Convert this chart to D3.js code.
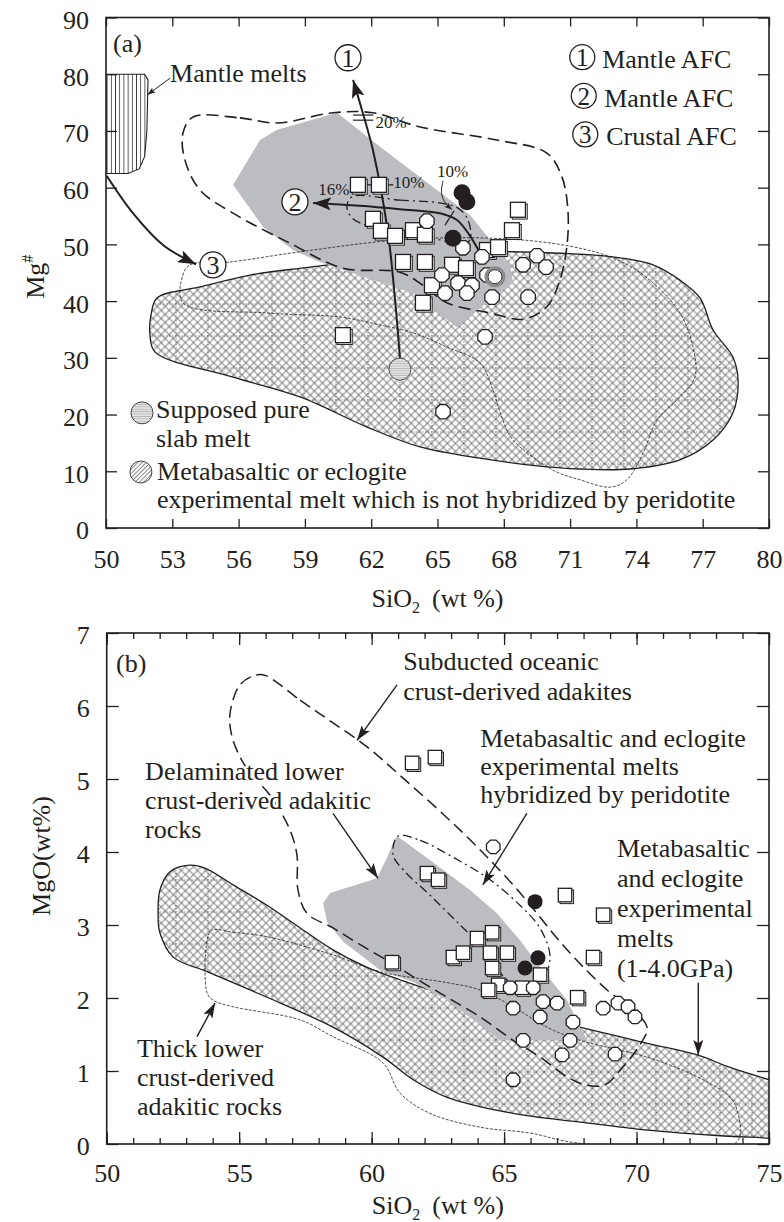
<!DOCTYPE html>
<html>
<head>
<meta charset="utf-8">
<script src="https://cdn.jsdelivr.net/npm/d3@7"></script>
<style>
  body { margin: 0; background: #fff; }
  svg text { font-family: "Liberation Serif", "Times New Roman", serif; fill: #231f20; }
</style>
</head>
<body>
<script>
// ================= Panel (a): SiO2 vs Mg# =================
const aTicksX = [50, 53, 56, 59, 62, 65, 68, 71, 74, 77, 80];
const aTicksY = [0, 10, 20, 30, 40, 50, 60, 70, 80, 90];

const aSquares = [
  [61.4, 60.5], [62.35, 60.5], [62.08, 54.5], [62.44, 52.4], [63.08, 51.5],
  [63.89, 52.5], [64.43, 51.7], [63.44, 46.9], [64.43, 46.9], [65.66, 46.4],
  [66.29, 45.8], [64.75, 42.8], [64.34, 39.7], [67.24, 49.0], [67.74, 49.5],
  [68.37, 52.5], [68.64, 56.1], [60.72, 34.0]
];
const aOpenCircles = [
  [64.52, 54.1], [66.15, 49.4], [67.01, 47.8], [65.2, 44.6], [65.93, 43.2],
  [66.56, 42.8], [67.24, 44.6], [65.34, 41.4], [66.33, 41.4], [67.47, 40.7],
  [68.87, 46.4], [69.5, 48.0], [69.91, 46.0], [69.1, 40.7], [67.15, 33.7],
  [65.25, 20.5]
];
const aFilledCircles = [[66.11, 59.1], [66.33, 57.5], [65.7, 51.1]];
const aRingCircles = [[67.6, 44.3]];
const aSlabMelt = [[63.3, 28.0]];

const aMantleMelts = [[50, 80], [51.75, 80], [51.9, 79], [51.85, 70], [51.75, 65.5],
  [51.5, 63.3], [51.0, 62.5], [50, 62.5]];
const aExpMeltField = [
  [52.31, 40.55], [54.25, 42.5], [56.52, 44.6], [59.23, 46.0], [62.4, 47.6],
  [65.57, 48.7], [68.42, 48.7], [72.94, 47.8], [74.75, 46.4], [75.97, 43.7],
  [76.88, 40.55], [77.47, 34.9], [78.37, 30.1], [78.6, 26.1], [78.37, 20.3],
  [77.47, 15.5], [75.97, 12.0], [73.71, 10.4], [71.45, 10.4], [69.19, 11.1],
  [66.92, 12.3], [64.21, 14.3], [61.81, 17.8], [58.78, 23.1], [55.75, 26.6],
  [52.22, 31.0], [51.99, 34.0], [52.04, 37.6]
];
const aThinField = [
  [53.8, 46.4], [55.61, 46.9], [58.78, 48.7], [63.3, 50.8], [67.38, 51.1],
  [70.68, 49.9], [72.94, 47.6], [74.48, 44.1], [75.97, 37.9], [76.56, 31.9],
  [76.65, 26.6], [75.97, 23.1], [74.93, 19.0], [74.3, 13.2], [73.57, 8.5],
  [72.81, 7.2], [71.45, 8.5], [70.23, 10.2], [68.42, 15.5], [67.96, 19.0],
  [67.51, 24.3], [66.92, 29.1], [65.43, 31.9], [63.89, 34.4], [62.4, 35.8],
  [60.59, 37.2], [57.29, 37.9], [53.48, 39.7], [53.48, 44.6]
];
const aAdakiteField = [
  [53.94, 72.46], [56.06, 72.3], [57.74, 71.4], [60.27, 73.2], [62.08, 73.2],
  [64.21, 70.7], [67.69, 68.4], [69.95, 66.1], [70.63, 61.9], [70.9, 56.1],
  [70.86, 49.9], [70.54, 43.7], [69.95, 39.0], [68.87, 36.8], [67.38, 37.9],
  [65.43, 39.7], [64.34, 42.8], [63.3, 45.1], [60.72, 45.8], [58.33, 50.2],
  [55.75, 55.5], [54.25, 59.6], [53.57, 64.9], [53.48, 69.6]
];
const aHybridField = [
  [55.75, 60.5], [56.97, 68.4], [57.74, 70.2], [60.45, 73.2], [62.4, 67.2],
  [64.66, 60.5], [66.47, 55.2], [67.38, 50.8], [68.28, 46.4], [68.42, 43.2],
  [67.38, 40.2], [65.88, 35.4], [63.9, 41.4], [59.68, 46.9], [58.46, 49.0],
  [57.1, 53.1]
];
const aMixLoop = [
  [61.13, 58.4], [63.3, 57.8], [65.11, 57.3], [65.93, 56.4], [66.38, 54.3],
  [66.47, 50.8], [66.11, 49.9], [65.11, 50.8], [63.3, 52.0], [61.95, 53.1],
  [61.13, 54.7], [60.9, 56.6]
];
const aPath1 = [[63.3, 30.0], [63.08, 40.2], [62.76, 52.0], [62.08, 66.6], [61.58, 73.7], [61.18, 79.0]];
const aPath2 = [[66.92, 48.5], [66.47, 51.5], [65.88, 54.3], [65.11, 55.5], [63.3, 56.2], [61.49, 56.8], [59.37, 57.3]];
const aPath3 = [[50.03, 62.1], [51.22, 55.5], [52.58, 49.9], [54.07, 46.5]];
const aPathLabels = [[60.95, 82.9, "1"], [58.55, 57.5, "2"], [54.84, 46.4, "3"]];
const aLegendAFC = [["1", "Mantle AFC"], ["2", "Mantle AFC"], ["3", "Crustal AFC"]];

// ================= Panel (b): SiO2 vs MgO =================
const bTicksX = [50, 55, 60, 65, 70, 75];
const bMinorX = d3.range(50, 76, 1);
const bTicksY = [0, 1, 2, 3, 4, 5, 6, 7];

const bSquares = [
  [61.53, 5.22], [62.39, 5.3], [62.09, 3.71], [62.51, 3.62], [67.3, 3.41],
  [68.74, 3.14], [68.36, 2.56], [67.76, 2.01], [60.77, 2.49], [63.07, 2.56],
  [63.45, 2.62], [63.98, 2.82], [64.55, 2.9], [64.47, 2.62], [65.11, 2.62],
  [64.55, 2.41], [64.78, 2.18], [64.4, 2.11], [65.68, 2.14], [66.36, 2.32]
];
const bOpenCircles = [
  [64.59, 4.07], [65.23, 2.14], [66.1, 2.14], [66.47, 1.95], [67.0, 1.93],
  [65.34, 1.86], [66.36, 1.74], [67.6, 1.67], [65.72, 1.42], [67.49, 1.42],
  [67.19, 1.22], [68.74, 1.86], [69.3, 1.93], [69.68, 1.88], [69.94, 1.74],
  [69.19, 1.23], [65.34, 0.88]
];
const bFilledCircles = [[66.17, 3.32], [66.28, 2.55], [65.79, 2.41]];

const bExpMeltField = [
  [51.94, 3.14], [52.01, 3.48], [52.39, 3.73], [53.14, 3.82], [53.71, 3.78],
  [54.77, 3.55], [56.05, 3.27], [57.3, 2.96], [58.54, 2.66], [59.83, 2.42],
  [61.07, 2.25], [62.85, 2.04], [65.34, 1.84], [67.87, 1.6], [70.4, 1.38],
  [72.29, 1.22], [73.53, 1.05], [75.0, 0.88], [76.5, 0.7],
  [76.5, 0.05], [75.0, 0.08], [72.89, 0.12], [70.4, 0.19], [67.87, 0.3],
  [65.34, 0.42], [62.85, 0.64], [61.57, 0.88], [60.43, 1.19], [58.54, 1.6],
  [56.05, 2.01], [53.79, 2.36], [52.51, 2.56], [52.01, 2.89]
];
const bThickCrustField = [
  [53.97, 2.93], [54.77, 2.9], [56.05, 2.84], [58.54, 2.59], [60.32, 2.36],
  [62.85, 2.21], [64.1, 2.11], [65.34, 1.88], [66.62, 1.6], [67.87, 1.42],
  [70.4, 1.19], [72.29, 0.92], [73.53, 0.64], [73.79, 0.47], [73.79, 0.03],
  [67.87, 0.01], [65.98, 0.15], [64.1, 0.23], [62.2, 0.42], [61.07, 0.7],
  [60.43, 1.11], [58.54, 1.47], [57.3, 1.7], [54.77, 1.88], [54.02, 1.97],
  [53.79, 2.07], [53.79, 2.79]
];
const bAdakiteField = [
  [55.98, 6.42], [57.3, 6.08], [58.54, 5.77], [59.83, 5.44], [61.07, 5.05],
  [63.34, 4.3], [65.34, 3.55], [67.38, 2.66], [68.89, 2.11], [69.87, 1.84],
  [70.4, 1.59], [70.13, 1.36], [69.38, 1.01], [68.81, 0.81], [68.06, 0.81],
  [67.38, 0.92], [66.36, 1.19], [65.34, 1.42], [64.1, 1.74], [62.85, 2.01],
  [61.57, 2.29], [60.7, 2.49], [59.57, 2.73], [58.54, 2.96], [57.56, 3.16],
  [57.22, 3.48], [57.18, 3.96], [56.92, 4.3], [56.16, 4.78], [55.33, 5.12],
  [54.77, 5.53], [54.65, 5.88], [55.03, 6.29], [55.6, 6.42]
];
const bDelaminatedField = [
  [60.96, 4.22], [62.2, 3.89], [63.71, 3.48], [64.73, 3.16], [65.6, 2.79],
  [66.36, 2.42], [67.38, 1.97], [67.87, 1.6], [68.13, 1.42], [64.85, 1.42],
  [64.1, 1.63], [62.85, 1.97], [61.57, 2.22], [60.32, 2.38], [59.83, 2.52],
  [58.93, 2.77], [58.32, 3.04], [58.17, 3.3], [58.43, 3.44], [60.2, 3.64],
  [60.58, 3.92], [60.81, 4.12]
];
const bHybridLoop = [
  [61.0, 4.22], [61.83, 4.16], [63.07, 3.93], [64.47, 3.62], [65.6, 3.27],
  [66.35, 2.96], [66.73, 2.59], [66.54, 2.32], [65.79, 2.18], [65.04, 2.27],
  [64.47, 2.59], [63.34, 3.0], [62.2, 3.41], [61.26, 3.73], [60.81, 3.96]
];

// ================= Drawing =================
const ink = "#231f20";
const greyFill = "#bcbdc0";
const svg = d3.select("body").append("svg").attr("width", 784).attr("height", 1222);
const defs = svg.append("defs");

const xA = d3.scaleLinear().domain([50, 80]).range([106, 769]);
const yA = d3.scaleLinear().domain([0, 90]).range([528, 17.5]);
const xB = d3.scaleLinear().domain([50, 75]).range([106.7, 769]);
const yB = d3.scaleLinear().domain([0, 7]).range([1144, 633]);
const intFmt = d3.format("d");

// --- fill patterns ---
function pattern(id, w, h, transform) {
  const p = defs.append("pattern").attr("id", id).attr("patternUnits", "userSpaceOnUse")
    .attr("width", w).attr("height", h);
  if (transform) p.attr("patternTransform", transform);
  return p;
}
const cross = pattern("xhatch", 5.7, 5.7, "rotate(45)");
cross.append("rect").attr("width", 5.7).attr("height", 5.7).attr("fill", "#fff");
cross.append("path").attr("d", "M0,2.85H5.7M2.85,0V5.7").attr("stroke", "#555").attr("stroke-width", 0.75);

const grid = pattern("grid", 32, 32);
grid.append("path").attr("d", "M16,0V32M0,16H32").attr("stroke", "#444")
  .attr("stroke-width", 0.6).attr("stroke-dasharray", "1.5,1.5");

const vlines = pattern("vlines", 4.2, 10);
vlines.append("rect").attr("width", 4.2).attr("height", 10).attr("fill", "#fff");
vlines.append("path").attr("d", "M2.1,0V10").attr("stroke", ink).attr("stroke-width", 0.8);

const hlines = pattern("hlines", 10, 2.4);
hlines.append("rect").attr("width", 10).attr("height", 2.4).attr("fill", "#e4e4e4");
hlines.append("path").attr("d", "M0,1.2H10").attr("stroke", "#9a9a9a").attr("stroke-width", 0.6);

const dlines = pattern("dlines", 3, 10, "rotate(45)");
dlines.append("rect").attr("width", 3).attr("height", 10).attr("fill", "#fff");
dlines.append("path").attr("d", "M1.5,0V10").attr("stroke", "#555").attr("stroke-width", 0.7);

// --- arrow heads ---
function arrowMarker(id, len, wid) {
  defs.append("marker").attr("id", id).attr("viewBox", `0 0 ${len} ${wid}`)
    .attr("refX", len).attr("refY", wid / 2).attr("markerWidth", len).attr("markerHeight", wid)
    .attr("markerUnits", "userSpaceOnUse").attr("orient", "auto")
    .append("path").attr("d", `M0,0L${len},${wid / 2}L0,${wid}L${len * 0.22},${wid / 2}Z`).attr("fill", ink);
}
arrowMarker("headBig", 18, 13);
arrowMarker("headMid", 15, 10);
arrowMarker("headSmall", 8, 6);

// --- clip paths ---
defs.append("clipPath").attr("id", "clipA").append("rect")
  .attr("x", xA(50)).attr("y", yA(90)).attr("width", xA(80) - xA(50)).attr("height", yA(0) - yA(90));
defs.append("clipPath").attr("id", "clipB").append("rect")
  .attr("x", xB(50)).attr("y", yB(7)).attr("width", xB(75) - xB(50)).attr("height", yB(0) - yB(7));

// --- helpers ---
const smoothClosed = (x, y) => d3.line().x(d => x(d[0])).y(d => y(d[1])).curve(d3.curveCatmullRomClosed.alpha(0.5));
const linearClosed = (x, y) => d3.line().x(d => x(d[0])).y(d => y(d[1])).curve(d3.curveLinearClosed);
const smoothOpen = (x, y) => d3.line().x(d => x(d[0])).y(d => y(d[1])).curve(d3.curveCatmullRom.alpha(0.5));
const straight = (x, y) => d3.line().x(d => x(d[0])).y(d => y(d[1]));

function hatchedField(g, data, x, y) {
  const path = smoothClosed(x, y)(data);
  g.append("path").attr("d", path).attr("fill", "url(#xhatch)");
  g.append("path").attr("d", path).attr("fill", "url(#grid)");
  g.append("path").attr("d", path).attr("fill", "none").attr("stroke", ink).attr("stroke-width", 1.3);
}

function octagon(r) {
  return d3.line()(d3.range(8).map(i => {
    const a = (i + 0.5) * Math.PI / 4;
    return [r * Math.cos(a), r * Math.sin(a)];
  })) + "Z";
}

function drawSquares(g, data, x, y, s) {
  const m = g.selectAll(null).data(data).join("g")
    .attr("transform", d => `translate(${x(d[0])},${y(d[1])})`);
  m.append("rect").attr("x", -s / 2 + 1.8).attr("y", -s / 2 + 1.8).attr("width", s).attr("height", s)
    .attr("fill", "#fff").attr("stroke", ink).attr("stroke-width", 1);
  m.append("rect").attr("x", -s / 2).attr("y", -s / 2).attr("width", s).attr("height", s)
    .attr("fill", "#fff").attr("stroke", ink).attr("stroke-width", 1.3);
}
function drawOpenCircles(g, data, x, y, r) {
  g.selectAll(null).data(data).join("path")
    .attr("transform", d => `translate(${x(d[0])},${y(d[1])})`)
    .attr("d", octagon(r)).attr("fill", "#fff").attr("stroke", ink).attr("stroke-width", 1.3);
}
function drawFilledCircles(g, data, x, y, r) {
  g.selectAll(null).data(data).join("circle")
    .attr("cx", d => x(d[0])).attr("cy", d => y(d[1])).attr("r", r).attr("fill", ink);
}
function circledNumber(g, cx, cy, r, n, fs) {
  g.append("circle").attr("cx", cx).attr("cy", cy).attr("r", r)
    .attr("fill", "#fff").attr("stroke", ink).attr("stroke-width", 1.3);
  g.append("text").attr("x", cx).attr("y", cy).attr("dy", "0.35em").attr("text-anchor", "middle")
    .attr("font-size", fs).text(n);
}
function label(g, x, y, lines, opts = {}) {
  const fs = opts.size || 26, lh = opts.lineHeight || 29;
  lines.forEach((t, i) => {
    const tx = g.append("text").attr("x", x).attr("y", y + i * lh).attr("font-size", fs)
      .attr("text-anchor", opts.anchor || "start").text(t);
    if (opts.halo) tx.attr("stroke", "#fff").attr("stroke-width", 5).attr("paint-order", "stroke")
      .attr("stroke-linejoin", "round");
  });
}
function arrow(g, pts, x, y, head, width, curved) {
  const gen = curved ? smoothOpen(x, y) : straight(x, y);
  g.append("path").attr("d", gen(pts)).attr("fill", "none").attr("stroke", ink)
    .attr("stroke-width", width).attr("marker-end", `url(#${head})`);
}
function styleAxis(g) {
  g.attr("font-family", null).attr("font-size", null);
  g.select(".domain").remove();
  g.selectAll(".tick line").attr("stroke", ink).attr("stroke-width", 1.3);
  g.selectAll(".tick text").attr("font-size", 26).attr("fill", ink);
}

// ================= Panel (a) =================
const pa = svg.append("g");
const fa = pa.append("g").attr("clip-path", "url(#clipA)");

hatchedField(fa, aExpMeltField, xA, yA);
fa.append("path").attr("d", linearClosed(xA, yA)(aHybridField)).attr("fill", greyFill);
fa.append("path").attr("d", smoothClosed(xA, yA)(aThinField)).attr("fill", "none")
  .attr("stroke", ink).attr("stroke-width", 0.8).attr("stroke-dasharray", "3,1.5");
fa.append("path").attr("d", smoothClosed(xA, yA)(aAdakiteField)).attr("fill", "none")
  .attr("stroke", ink).attr("stroke-width", 1.6).attr("stroke-dasharray", "12,6");
fa.append("path").attr("d", smoothClosed(xA, yA)(aMixLoop)).attr("fill", "none")
  .attr("stroke", ink).attr("stroke-width", 1.3).attr("stroke-dasharray", "9,4,2,4");
fa.append("path").attr("d", linearClosed(xA, yA)(aMantleMelts)).attr("fill", "url(#vlines)")
  .attr("stroke", ink).attr("stroke-width", 1.1);

// AFC paths
arrow(pa, aPath1, xA, yA, "headBig", 2, true);
arrow(pa, aPath2, xA, yA, "headBig", 2, true);
arrow(pa, aPath3, xA, yA, "headBig", 2, true);

// percentage marks along the paths
pa.append("path").attr("d", straight(xA, yA)([[61.18, 72.8], [62.1, 72.8]])).attr("stroke", ink).attr("stroke-width", 1.2);
pa.append("path").attr("d", straight(xA, yA)([[61.18, 71.9], [62.1, 71.9]])).attr("stroke", ink).attr("stroke-width", 1.2);
pa.append("text").attr("x", xA(62.2)).attr("y", yA(70.5)).attr("font-size", 17).text("20%");
pa.append("path").attr("d", straight(xA, yA)([[61.4, 60.5], [63.0, 60.5]])).attr("stroke", ink).attr("stroke-width", 1.2);
pa.append("text").attr("x", xA(63.0)).attr("y", yA(59.9)).attr("font-size", 17).text("10%");
pa.append("text").attr("x", xA(59.6)).attr("y", yA(58.7)).attr("font-size", 17).text("16%");
pa.append("text").attr("x", xA(64.98)).attr("y", yA(61.9)).attr("font-size", 17).text("10%");
arrow(pa, [[65.25, 61.2], [65.18, 59.2], [65.32, 57.5], [65.66, 56.1]], xA, yA, "headSmall", 1, true);
pa.append("path").attr("d", straight(xA, yA)([[65.34, 53.4], [65.75, 55.9]])).attr("stroke", ink).attr("stroke-width", 1.2);

// samples
drawSquares(pa, aSquares, xA, yA, 15);
drawOpenCircles(pa, aOpenCircles, xA, yA, 7.8);
pa.selectAll(null).data(aRingCircles).join("circle")
  .attr("cx", d => xA(d[0])).attr("cy", d => yA(d[1])).attr("r", 9)
  .attr("fill", "#fff").attr("stroke", "#8a8a8a").attr("stroke-width", 3);
pa.selectAll(null).data(aRingCircles).join("circle")
  .attr("cx", d => xA(d[0])).attr("cy", d => yA(d[1])).attr("r", 7)
  .attr("fill", "none").attr("stroke", ink).attr("stroke-width", 1);
drawFilledCircles(pa, aFilledCircles, xA, yA, 8.5);
pa.selectAll(null).data(aSlabMelt).join("circle")
  .attr("cx", d => xA(d[0])).attr("cy", d => yA(d[1])).attr("r", 11)
  .attr("fill", "url(#hlines)").attr("stroke", "#555").attr("stroke-width", 1);

// path numbers
aPathLabels.forEach(d => circledNumber(pa, xA(d[0]), yA(d[1]), 13, d[2], 26));

// legend for the AFC paths
aLegendAFC.forEach((d, i) => {
  const cy = yA(83.0 - i * 6.8);
  circledNumber(pa, xA(71.55) + i * 1.5, cy, 12.5, d[0], 25);
  pa.append("text").attr("x", xA(72.45) + i * 2).attr("y", cy + 11).attr("font-size", 26).text(d[1]);
});

// annotations
pa.append("text").attr("x", xA(50.32)).attr("y", yA(83.9)).attr("font-size", 26).text("(a)");
label(pa, xA(52.9), yA(78.6), ["Mantle melts"]);
arrow(pa, [[52.9, 79.3], [51.88, 76.4]], xA, yA, "headSmall", 1, false);

pa.append("circle").attr("cx", xA(51.63)).attr("cy", yA(20.3)).attr("r", 11)
  .attr("fill", "url(#hlines)").attr("stroke", "#444").attr("stroke-width", 1);
label(pa, xA(52.26), yA(19.4), ["Supposed pure", "slab melt"]);
pa.append("circle").attr("cx", xA(51.58)).attr("cy", yA(9.87)).attr("r", 11)
  .attr("fill", "url(#dlines)").attr("stroke", "#444").attr("stroke-width", 1);
label(pa, xA(52.31), yA(8.46), ["Metabasaltic or eclogite",
  "experimental melt which is not hybridized by peridotite"], { lineHeight: 28 });

// axes (a)
pa.append("g").attr("transform", `translate(0,${yA(0)})`)
  .call(d3.axisBottom(xA).tickValues(aTicksX).tickFormat(intFmt).tickSizeInner(-9).tickSizeOuter(0).tickPadding(22)).call(styleAxis);
pa.append("g").attr("transform", `translate(0,${yA(90)})`)
  .call(d3.axisTop(xA).tickValues(aTicksX).tickSizeInner(-9).tickSizeOuter(0).tickFormat("")).call(styleAxis);
pa.append("g").attr("transform", `translate(${xA(50)},0)`)
  .call(d3.axisLeft(yA).tickValues(aTicksY).tickFormat(intFmt).tickSizeInner(-11).tickSizeOuter(0).tickPadding(17)).call(styleAxis)
  .selectAll(".tick text").attr("dy", "0.42em");
pa.append("g").attr("transform", `translate(${xA(80)},0)`)
  .call(d3.axisRight(yA).tickValues(aTicksY).tickSizeInner(-11).tickSizeOuter(0).tickFormat("")).call(styleAxis);
pa.append("rect").attr("x", xA(50)).attr("y", yA(90)).attr("width", xA(80) - xA(50)).attr("height", yA(0) - yA(90))
  .attr("fill", "none").attr("stroke", ink).attr("stroke-width", 1.6);

const titleA = pa.append("text").attr("x", (xA(50) + xA(80)) / 2).attr("y", 607)
  .attr("text-anchor", "middle").attr("font-size", 26);
titleA.append("tspan").text("SiO");
titleA.append("tspan").attr("font-size", 16).attr("dy", 6).text("2");
titleA.append("tspan").attr("dy", -6).attr("dx", 12).text("(wt %)");

const yTitleA = pa.append("text").attr("transform", `translate(44,${(yA(90) + yA(0)) / 2 + 4}) rotate(-90)`)
  .attr("text-anchor", "middle").attr("font-size", 26);
yTitleA.append("tspan").text("Mg");
yTitleA.append("tspan").attr("font-size", 16).attr("dy", -11).text("#");

// ================= Panel (b) =================
const pb = svg.append("g");
const fb = pb.append("g").attr("clip-path", "url(#clipB)");

hatchedField(fb, bExpMeltField, xB, yB);
fb.append("path").attr("d", linearClosed(xB, yB)(bDelaminatedField)).attr("fill", greyFill);
fb.append("path").attr("d", smoothClosed(xB, yB)(bThickCrustField)).attr("fill", "none")
  .attr("stroke", ink).attr("stroke-width", 0.8).attr("stroke-dasharray", "3,1.5");
fb.append("path").attr("d", smoothClosed(xB, yB)(bAdakiteField)).attr("fill", "none")
  .attr("stroke", ink).attr("stroke-width", 1.5).attr("stroke-dasharray", "12,6");
fb.append("path").attr("d", smoothClosed(xB, yB)(bHybridLoop)).attr("fill", "none")
  .attr("stroke", ink).attr("stroke-width", 1.3).attr("stroke-dasharray", "9,4,2,4");

drawSquares(pb, bSquares, xB, yB, 13.5);
drawOpenCircles(pb, bOpenCircles, xB, yB, 7.3);
drawFilledCircles(pb, bFilledCircles, xB, yB, 7.5);

// annotations (b)
pb.append("text").attr("x", xB(50.35)).attr("y", yB(6.47)).attr("font-size", 26).text("(b)");
label(pb, xB(61.19), yB(6.49), ["Subducted oceanic", "crust-derived adakites"], { halo: true, lineHeight: 30 });
arrow(pb, [[60.96, 6.29], [59.45, 5.53]], xB, yB, "headMid", 1.4, false);
label(pb, xB(64.1), yB(5.44), ["Metabasaltic and eclogite", "experimental melts", "hybridized by peridotite"], { halo: true, lineHeight: 28 });
arrow(pb, [[65.86, 4.53], [64.2, 3.55]], xB, yB, "headMid", 1.4, false);
label(pb, xB(51.45), yB(4.99), ["Delaminated lower", "crust-derived adakitic", "rocks"], { halo: true, lineHeight: 29 });
arrow(pb, [[58.54, 4.53], [60.24, 3.64]], xB, yB, "headMid", 1.4, false);
label(pb, xB(69.26), yB(3.93), ["Metabasaltic", "and eclogite", "experimental", "melts", "(1-4.0GPa)"], { halo: true, lineHeight: 30 });
arrow(pb, [[72.33, 2.21], [72.33, 1.22]], xB, yB, "headMid", 1.4, false);
label(pb, xB(51.14), yB(1.19), ["Thick lower", "crust-derived", "adakitic rocks"], { halo: true, lineHeight: 29 });
arrow(pb, [[53.41, 1.47], [54.09, 1.93]], xB, yB, "headMid", 1.4, false);

// axes (b)
pb.append("g").attr("transform", `translate(0,${yB(0)})`)
  .call(d3.axisBottom(xB).tickValues(bMinorX).tickSizeInner(-6).tickSizeOuter(0).tickFormat("")).call(styleAxis);
pb.append("g").attr("transform", `translate(0,${yB(0)})`)
  .call(d3.axisBottom(xB).tickValues(bTicksX).tickFormat(intFmt).tickSizeInner(-12).tickSizeOuter(0).tickPadding(20)).call(styleAxis);
pb.append("g").attr("transform", `translate(0,${yB(7)})`)
  .call(d3.axisTop(xB).tickValues(bMinorX).tickSizeInner(-6).tickSizeOuter(0).tickFormat("")).call(styleAxis);
pb.append("g").attr("transform", `translate(0,${yB(7)})`)
  .call(d3.axisTop(xB).tickValues(bTicksX).tickSizeInner(-12).tickSizeOuter(0).tickFormat("")).call(styleAxis);
pb.append("g").attr("transform", `translate(${xB(50)},0)`)
  .call(d3.axisLeft(yB).tickValues(bTicksY).tickFormat(intFmt).tickSizeInner(-12).tickSizeOuter(0).tickPadding(17)).call(styleAxis)
  .selectAll(".tick text").attr("dy", "0.42em");
pb.append("g").attr("transform", `translate(${xB(75)},0)`)
  .call(d3.axisRight(yB).tickValues(bTicksY).tickSizeInner(-12).tickSizeOuter(0).tickFormat("")).call(styleAxis);
pb.append("rect").attr("x", xB(50)).attr("y", yB(7)).attr("width", xB(75) - xB(50)).attr("height", yB(0) - yB(7))
  .attr("fill", "none").attr("stroke", ink).attr("stroke-width", 1.6);

const titleB = pb.append("text").attr("x", (xB(50) + xB(75)) / 2).attr("y", 1214)
  .attr("text-anchor", "middle").attr("font-size", 26);
titleB.append("tspan").text("SiO");
titleB.append("tspan").attr("font-size", 16).attr("dy", 6).text("2");
titleB.append("tspan").attr("dy", -6).attr("dx", 12).text("(wt %)");

pb.append("text").attr("transform", `translate(50,856) rotate(-90)`)
  .attr("text-anchor", "middle").attr("font-size", 26).text("MgO(wt%)");
</script>
</body>
</html>
